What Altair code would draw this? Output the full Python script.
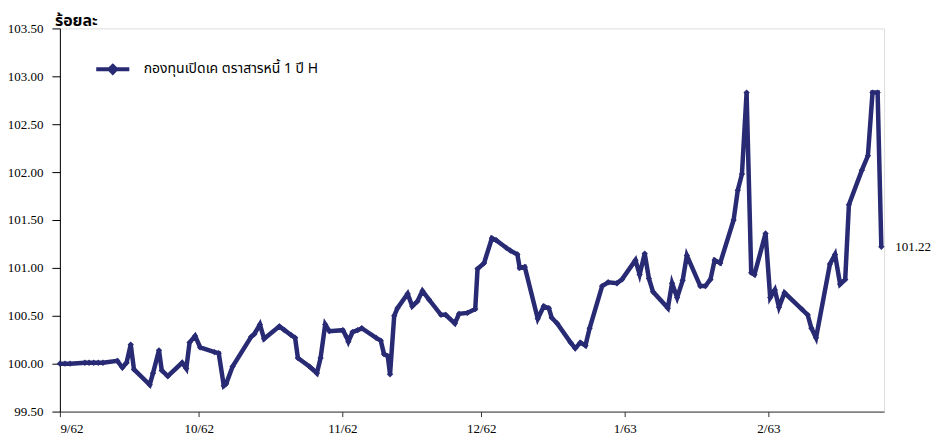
import altair as alt
import pandas as pd

# ---- data ----
START = "2019-09-01"
day_offsets = [
    0.0, 1.1, 2.2, 5.4, 6.3, 7.3, 8.3, 9.3, 12.4, 13.5, 14.4, 15.3, 16.0,
    19.4, 20.1, 21.4, 22.0, 23.3, 26.4, 27.3, 28.0, 29.2, 30.3, 33.4, 34.3,
    35.4, 35.9, 37.3, 41.3, 42.0, 43.2, 44.1, 47.4, 48.5, 49.9, 50.8, 51.4,
    53.9, 54.6, 55.5, 56.3, 57.3, 58.2, 61.1, 61.9, 62.3, 63.2, 64.3, 65.2,
    68.3, 69.3, 70.0, 70.8, 71.3, 72.2, 72.9, 75.1, 76.1, 77.2, 78.3, 79.7,
    82.3, 83.3, 85.3, 86.2, 88.0, 89.7, 90.2, 91.6, 93.3, 94.2, 96.4, 97.3,
    98.8, 99.3, 100.4, 103.2, 104.5, 105.6, 106.2, 107.4, 110.3, 111.3,
    112.4, 113.5, 114.4, 117.1, 118.4, 120.3, 121.4, 124.3, 125.2, 126.3,
    127.2, 128.1, 131.3, 132.2, 133.3, 134.5, 135.4, 138.3, 139.4, 140.5,
    141.4, 142.6, 145.5, 146.4, 147.3, 148.3, 149.3, 150.0, 152.4, 153.4,
    154.4, 155.3, 156.5, 160.2, 161.5, 162.3, 163.3, 166.3, 167.4, 168.5,
    169.6, 170.4, 173.2, 174.5, 175.5, 176.6, 177.4,
]
nav_values = [
    100.00, 100.00, 100.00, 100.01, 100.01, 100.01, 100.01, 100.01, 100.03,
    99.96, 100.01, 100.20, 99.94, 99.78, 99.90, 100.14, 99.93, 99.87, 100.01,
    99.95, 100.22, 100.29, 100.17, 100.12, 100.11, 99.77, 99.79, 99.97,
    100.28, 100.31, 100.41, 100.26, 100.39, 100.35, 100.30, 100.27, 100.06,
    99.97, 99.94, 99.90, 100.06, 100.41, 100.34, 100.35, 100.28, 100.23,
    100.33, 100.35, 100.37, 100.27, 100.24, 100.10, 100.08, 99.89, 100.50,
    100.58, 100.73, 100.60, 100.65, 100.76, 100.67, 100.51, 100.51, 100.42,
    100.52, 100.53, 100.57, 100.99, 101.05, 101.31, 101.29, 101.21, 101.18,
    101.14, 101.00, 101.01, 100.47, 100.60, 100.58, 100.48, 100.42, 100.22,
    100.16, 100.22, 100.19, 100.37, 100.81, 100.85, 100.84, 100.88, 101.08,
    100.93, 101.15, 100.89, 100.75, 100.58, 100.84, 100.69, 100.87, 101.13,
    100.81, 100.81, 100.88, 101.08, 101.05, 101.50, 101.81, 101.98, 102.83,
    100.95, 100.93, 101.36, 100.69, 100.77, 100.59, 100.74, 100.57, 100.51,
    100.37, 100.27, 101.04, 101.14, 100.83, 100.88, 101.66, 102.02, 102.17,
    102.83, 102.83, 101.22,
]
series_name = "กองทุนเปิดเค ตราสารหนี้ 1 ปี H"
y_title = "ร้อยละ"
y_ticks = [99.5, 100.0, 100.5, 101.0, 101.5, 102.0, 102.5, 103.0, 103.5]
month_ticks = [(2019, 9), (2019, 10), (2019, 11), (2019, 12), (2020, 1), (2020, 2)]

dates = pd.Timestamp(START) + pd.to_timedelta(day_offsets, unit="D")
df = pd.DataFrame({"date": dates, "nav": nav_values, "series": series_name})
last = df.tail(1).copy()
last["label"] = last["nav"].map(lambda v: f"{v:.2f}")

COLOR = "#282a74"
SERIF = "Liberation Serif, Times New Roman, serif"
THAI = "Tahoma, Noto Sans Thai, Loma, Garuda, Noto Sans, sans-serif"

x_enc = alt.X(
    "date:T",
    title=None,
    scale=alt.Scale(domain=[alt.DateTime(year=2019, month=9, date=1),
                            alt.DateTime(year=2020, month=2, date=26)]),
    axis=alt.Axis(
        values=[alt.DateTime(year=y, month=m, date=1) for y, m in month_ticks],
        labelExpr="(month(datum.value)+1) + '/' + ((year(datum.value)+543) % 100)",
        grid=False, tickSize=5, labelPadding=6, labelFont=SERIF,
        labelFontSize=13, labelColor="#000000", domainColor="#333333",
        tickColor="#333333", labelAngle=0,
    ),
)
y_enc = alt.Y(
    "nav:Q",
    title=None,
    scale=alt.Scale(domain=[99.5, 103.5], zero=False, nice=False),
    axis=alt.Axis(
        values=y_ticks, format=".2f", grid=False, tickSize=8, labelPadding=9,
        labelFont=SERIF, labelFontSize=13, labelColor="#000000",
        domainColor="#000000", tickColor="#000000",
    ),
)

line = alt.Chart(df).mark_line(
    strokeWidth=4.5,
    point=alt.OverlayMarkDef(shape="diamond", size=40, filled=True, color=COLOR),
).encode(
    x=x_enc,
    y=y_enc,
    color=alt.Color(
        "series:N",
        scale=alt.Scale(range=[COLOR]),
        legend=alt.Legend(
            title=None, orient="none", legendX=34, legendY=22, padding=0,
            symbolType="M-1,0H1M0,-0.2L0.2,0L0,0.2L-0.2,0Z",
            symbolSize=1100, symbolStrokeWidth=4, symbolFillColor=COLOR,
            labelFont=THAI, labelFontSize=14, labelColor="#000000",
            labelOffset=12, labelLimit=400,
        ),
    ),
)

end_label = alt.Chart(last).mark_text(
    align="left", baseline="middle", dx=14, font=SERIF, fontSize=13, color="#000000"
).encode(x="date:T", y="nav:Q", text="label:N")

chart = alt.layer(line, end_label).properties(
    width=826,
    height=384,
    title=alt.TitleParams(
        y_title, anchor="start", frame="group", dx=-5, offset=-7,
        font=THAI, fontSize=16, fontWeight="bold", color="#000000",
    ),
    autosize=alt.AutoSizeParams(type="none"),
    padding={"left": 52, "top": 20, "right": 50, "bottom": 24},
).configure_view(
    stroke="#999999", strokeWidth=1.5
).configure(background="white")

chart.save("out.html", embed_options={"renderer": "svg", "actions": False})
